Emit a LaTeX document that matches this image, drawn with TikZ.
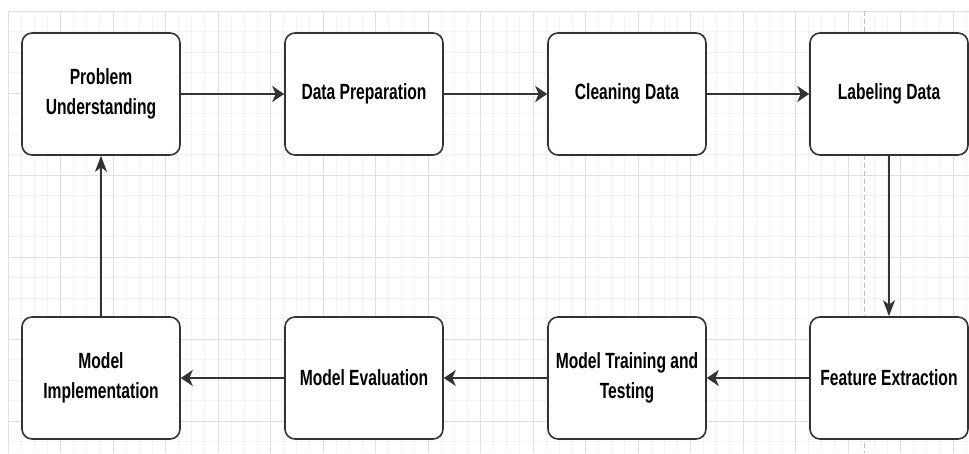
\documentclass[tikz,border=0pt]{standalone}
\usepackage{fontspec}
\usepackage{xcolor}
\usepackage{tikz}
\usetikzlibrary{arrows.meta}
\newfontfamily\boxfont[FakeStretch=0.71]{Liberation Sans}
\definecolor{edge}{HTML}{333333}
\definecolor{minor}{HTML}{F2F2F2}
\definecolor{major}{HTML}{E0E0E0}
\definecolor{guide}{HTML}{BDBDBD}
\tikzset{
  stage/.style={draw=edge,line width=1.6pt,fill=white,rounded corners=10pt,
    minimum width=158pt,minimum height=122pt,align=center,
    font=\boxfont\bfseries\fontsize{22}{30}\selectfont},
  flow/.style={edge,line width=1.6pt},
  hflow/.style={flow,-{Stealth[length=12pt,width=16pt,inset=3.5pt]}},
  vflow/.style={flow,-{Stealth[length=16pt,width=12pt,inset=4.5pt]}},
}

\begin{document}
\begin{tikzpicture}[x=1pt,y=1pt]
\useasboundingbox (0,0) rectangle (969,453);
% background grid
\foreach \i in {0,...,73}
  \draw[minor,line width=.9pt] ({8+13.125*\i},0)--({8+13.125*\i},442);
\foreach \j in {0,...,21}
  \draw[minor,line width=.9pt] (7.5,{442-20.5*\j})--(969,{442-20.5*\j});
\foreach \i in {0,...,18}
  \draw[major,line width=.9pt] ({8+52.5*\i},0)--({8+52.5*\i},442);
\foreach \j in {0,...,5}
  \draw[major,line width=.9pt] (7.5,{442-82*\j})--(969,{442-82*\j});
\draw[guide,dashed,dash pattern=on 5pt off 3pt,line width=.8pt] (864,442)--(864,0);

% stages, top row left to right, bottom row right to left
\node[stage] (prob)  at (101,359) {Problem\\Understanding};
\node[stage] (prep)  at (364,359) {Data Preparation};
\node[stage] (clean) at (627,359) {Cleaning Data};
\node[stage] (label) at (889,359) {Labeling Data};
\node[stage] (feat)  at (889,75)  {Feature Extraction};
\node[stage] (train) at (627,75)  {Model Training and\\Testing};
\node[stage] (eval)  at (364,75)  {Model Evaluation};
\node[stage] (impl)  at (101,75)  {Model\\Implementation};

\draw[hflow] (prob.east)--(prep.west);
\draw[hflow] (prep.east)--(clean.west);
\draw[hflow] (clean.east)--(label.west);
\draw[vflow] (label.south)--(feat.north);
\draw[hflow] (feat.west)--(train.east);
\draw[hflow] (train.west)--(eval.east);
\draw[hflow] (eval.west)--(impl.east);
\draw[vflow] (impl.north)--(prob.south);
\end{tikzpicture}
\end{document}
